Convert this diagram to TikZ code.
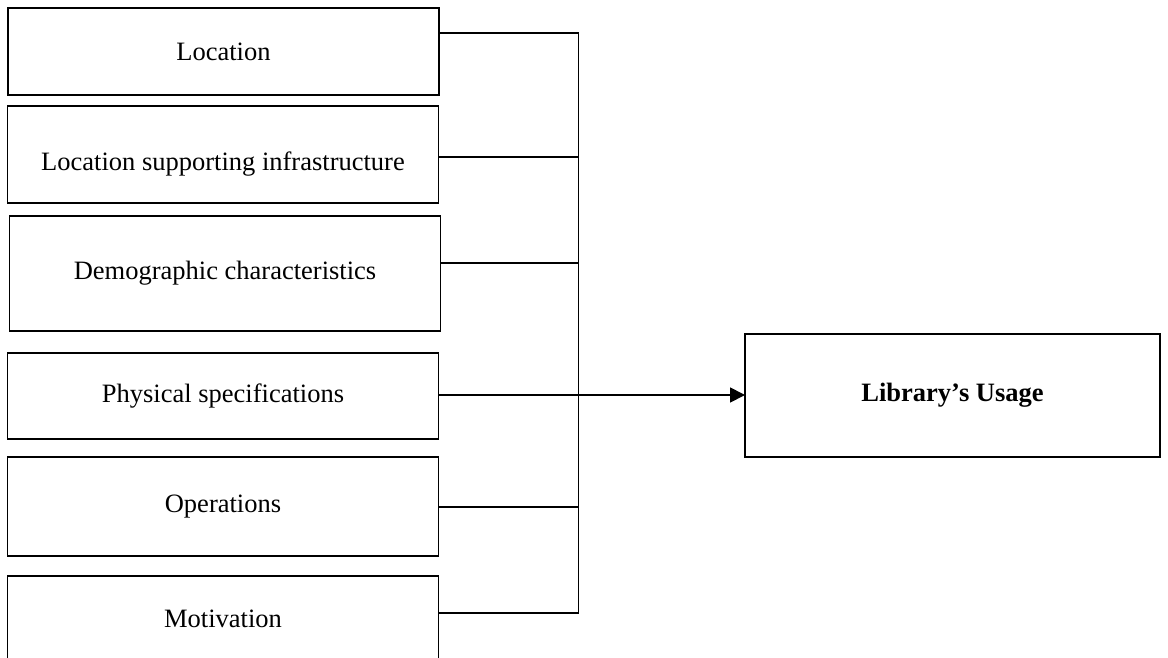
\documentclass[tikz,border=0pt]{standalone}
\usepackage{fontspec}
\setmainfont{Liberation Serif}
\usetikzlibrary{arrows.meta}
\begin{document}
\begin{tikzpicture}[x=1pt,y=-1pt,
  box/.style={draw,line width=1.8pt,inner sep=0pt,outer sep=0pt,
    minimum width=431pt,font=\fontsize{26.5}{30}\selectfont},
  link/.style={line width=1.5pt}]
\clip (0,0) rectangle (1168,658);
\useasboundingbox (0,0) rectangle (1168,658);
\node[box,minimum height=87pt]  (b1) at (223.5,51.5) {Location};
\node[box,minimum height=97pt,label={[font=\fontsize{26.5}{30}\selectfont,yshift=-10pt]center:Location supporting infrastructure}] (b2) at (223,154.5) {};
\node[box,minimum height=115pt] (b3) at (225,273.5) {Demographic characteristics};
\node[box,minimum height=86pt]  (b4) at (223,396) {Physical specifications};
\node[box,minimum height=99pt]  (b5) at (223,506.5) {Operations};
\node[box,minimum height=86pt]  (b6) at (223,619) {Motivation};
\node[box,minimum width=415pt,minimum height=123pt,font=\fontsize{26.5}{30}\selectfont\bfseries] (lib) at (952.5,395.5) {Library’s Usage};
\coordinate (j1) at (578.5,33);
\coordinate (j2) at (578.5,157);
\coordinate (j3) at (578.5,263);
\coordinate (j4) at (578.5,395);
\coordinate (j5) at (578.5,507);
\coordinate (j6) at (578.5,613);
\draw[link] (b1.east |- j1) -- (j1);
\draw[link] (b2.east |- j2) -- (j2);
\draw[link] (b3.east |- j3) -- (j3);
\draw[link] (b5.east |- j5) -- (j5);
\draw[link] (b6.east |- j6) -- (j6);
\draw[link] (j1) -- (j6);
\draw[link,line width=1.8pt,-{Triangle[length=15pt,width=15pt]}] (b4.east |- j4) -- (lib.west |- j4);
\end{tikzpicture}
\end{document}
